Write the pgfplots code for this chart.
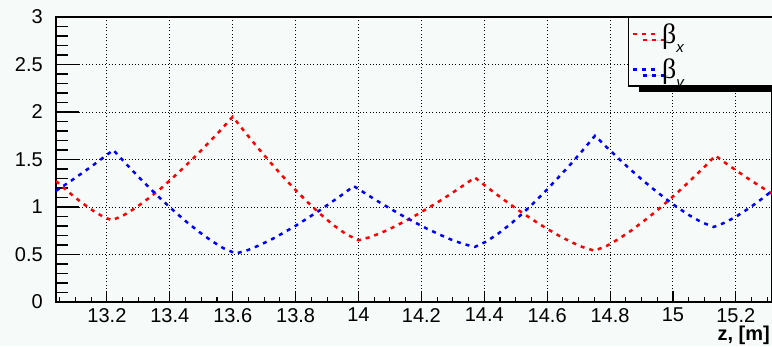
\documentclass[border=0pt]{standalone}
\usepackage{pgfplots}
\pgfplotsset{compat=1.18}
\usepackage{fontspec}
\setmainfont{Liberation Sans}
\newfontfamily\greekserif{Liberation Serif}
\usetikzlibrary{shadows}
\definecolor{bgc}{RGB}{246,250,248}
\newcommand{\bsub}[1]{\makebox[112pt][l]{{\greekserif\fontsize{28}{28}\selectfont β}\raisebox{-9pt}{\fontsize{15}{15}\selectfont\itshape #1}}}
\begin{document}
\begin{tikzpicture}
\clip (-56pt,-44pt) rectangle (716pt,302pt);
\fill[bgc] (-56pt,-44pt) rectangle (716pt,302pt);
\begin{axis}[
  at={(0pt,0pt)}, anchor=south west,
  scale only axis, width=716pt, height=285pt,
  xmin=13.038, xmax=15.315, ymin=0, ymax=3,
  axis line style={line width=1.5pt},
  tick align=inside, xtick pos=left, ytick pos=left,
  xtick={13.2,13.4,13.6,13.8,14,14.2,14.4,14.6,14.8,15,15.2},
  ytick={0,0.5,1,1.5,2,2.5,3},
  minor x tick num=3, minor y tick num=4,
  major tick length=23pt, minor tick length=12pt,
  every tick/.style={line width=1.1pt, black},
  major x tick style={dash pattern=on 11pt off 60pt},
  minor x tick style={dash pattern=on 5.5pt off 60pt},
  grid=major,
  major grid style={black, line width=1pt, dash pattern=on 1pt off 2.3pt},
  /pgf/number format/assume math mode=true,
  ticklabel style={font=\fontsize{20}{24}\selectfont},
  yticklabel style={inner xsep=0pt, xshift=-13pt},
  xticklabel style={inner ysep=0pt, yshift=-6pt},
  xlabel={\bfseries z, [m]},
  xlabel style={font=\fontsize{20}{24}\selectfont, at={(axis description cs:1,0)}, anchor=north east, inner sep=0pt, yshift=-24pt, xshift=-2pt},
  legend style={at={(axis description cs:0.799,1)}, anchor=north west, draw=black, line width=1.2pt, fill=bgc, inner xsep=3pt, inner ysep=4pt, row sep=10pt,
    drop shadow={shadow xshift=10pt, shadow yshift=-6pt, opacity=1, fill=black}},
  legend cell align=left,
  legend image code/.code={\draw[#1] (0pt,0pt) -- (26pt,0pt);},
]
% tick marks (ROOT style), drawn as combs inside the frame
\addplot[xcomb, black, line width=1.1pt, forget plot] coordinates {
(13.111,0.5)(13.111,1)(13.111,1.5)(13.111,2)(13.111,2.5)};
\addplot[xcomb, black, line width=1.1pt, forget plot] coordinates {
(13.0762,0.1)(13.0762,0.2)(13.0762,0.3)(13.0762,0.4)(13.0762,0.6)(13.0762,0.7)(13.0762,0.8)(13.0762,0.9)
(13.0762,1.1)(13.0762,1.2)(13.0762,1.3)(13.0762,1.4)(13.0762,1.6)(13.0762,1.7)(13.0762,1.8)(13.0762,1.9)
(13.0762,2.1)(13.0762,2.2)(13.0762,2.3)(13.0762,2.4)(13.0762,2.6)(13.0762,2.7)(13.0762,2.8)(13.0762,2.9)};
\addplot[ycomb, black, line width=1.1pt, forget plot] coordinates {
(13.2,0.1158)(13.4,0.1158)(13.6,0.1158)(13.8,0.1158)(14,0.1158)(14.2,0.1158)(14.4,0.1158)(14.6,0.1158)(14.8,0.1158)(15,0.1158)(15.2,0.1158)};
\addplot[ycomb, black, line width=1.1pt, forget plot] coordinates {
(13.05,0.0579)(13.1,0.0579)(13.15,0.0579)(13.25,0.0579)(13.3,0.0579)(13.35,0.0579)(13.45,0.0579)(13.5,0.0579)(13.55,0.0579)
(13.65,0.0579)(13.7,0.0579)(13.75,0.0579)(13.85,0.0579)(13.9,0.0579)(13.95,0.0579)(14.05,0.0579)(14.1,0.0579)(14.15,0.0579)
(14.25,0.0579)(14.3,0.0579)(14.35,0.0579)(14.45,0.0579)(14.5,0.0579)(14.55,0.0579)(14.65,0.0579)(14.7,0.0579)(14.75,0.0579)
(14.85,0.0579)(14.9,0.0579)(14.95,0.0579)(15.05,0.0579)(15.1,0.0579)(15.15,0.0579)(15.25,0.0579)(15.3,0.0579)};
\addplot[red, line width=2.5pt, dash pattern=on 4pt off 5pt] coordinates {
(13.038,1.273)(13.08,1.151)(13.12,1.045)(13.16,0.952)(13.19,0.894)(13.216,0.86)(13.254,0.915)(13.293,0.995)(13.331,1.088)(13.370,1.191)(13.408,1.303)(13.446,1.421)(13.485,1.546)(13.523,1.676)(13.562,1.811)(13.60,1.95)(13.64,1.784)(13.68,1.623)(13.72,1.468)(13.76,1.319)(13.80,1.178)(13.84,1.045)(13.88,0.922)(13.92,0.810)(13.96,0.715)(14.00,0.65)(14.037,0.683)(14.074,0.731)(14.111,0.788)(14.148,0.851)(14.185,0.918)(14.222,0.990)(14.259,1.065)(14.296,1.144)(14.333,1.226)(14.37,1.31)(14.408,1.211)(14.446,1.116)(14.484,1.024)(14.522,0.936)(14.56,0.853)(14.598,0.774)(14.636,0.701)(14.674,0.635)(14.712,0.579)(14.75,0.54)(14.789,0.590)(14.827,0.663)(14.866,0.749)(14.904,0.844)(14.943,0.946)(14.981,1.055)(15.02,1.169)(15.058,1.288)(15.097,1.412)(15.135,1.54)(15.173,1.449)(15.212,1.360)(15.25,1.275)(15.289,1.194)(15.315,1.14)
};
\addlegendentry{\bsub{x}}
\addplot[blue, line width=2.5pt, dash pattern=on 4pt off 5pt] coordinates {
(13.038,1.17)(13.07,1.240)(13.10,1.308)(13.13,1.378)(13.16,1.450)(13.19,1.524)(13.22,1.60)(13.259,1.461)(13.298,1.326)(13.337,1.196)(13.376,1.071)(13.415,0.953)(13.454,0.841)(13.493,0.738)(13.532,0.645)(13.571,0.565)(13.61,0.51)(13.648,0.546)(13.685,0.598)(13.723,0.658)(13.76,0.726)(13.798,0.798)(13.835,0.876)(13.873,0.957)(13.91,1.041)(13.948,1.129)(13.985,1.22)(14.024,1.138)(14.062,1.059)(14.101,0.983)(14.139,0.910)(14.178,0.840)(14.216,0.775)(14.255,0.714)(14.293,0.659)(14.332,0.612)(14.37,0.58)(14.408,0.639)(14.446,0.724)(14.485,0.825)(14.523,0.936)(14.561,1.055)(14.599,1.182)(14.637,1.316)(14.676,1.455)(14.714,1.600)(14.752,1.75)(14.79,1.627)(14.828,1.508)(14.865,1.394)(14.903,1.284)(14.941,1.180)(14.979,1.082)(15.016,0.991)(15.054,0.909)(15.092,0.838)(15.13,0.79)(15.168,0.839)(15.206,0.910)(15.244,0.992)(15.282,1.084)(15.315,1.17)
};
\addlegendentry{\bsub{y}}
\end{axis}
\end{tikzpicture}
\end{document}
